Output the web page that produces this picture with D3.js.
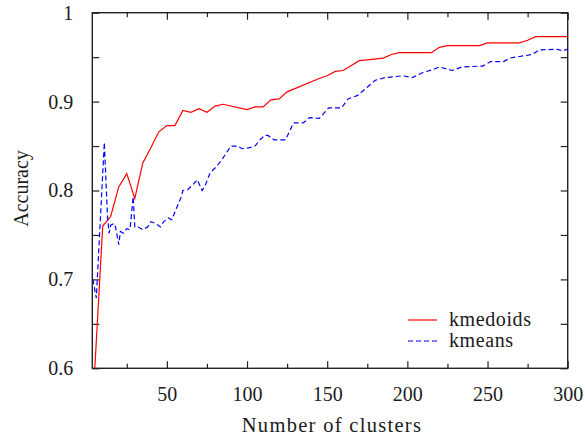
<!DOCTYPE html>
<html>
<head>
<meta charset="utf-8">
<script src="https://cdn.jsdelivr.net/npm/d3@7/dist/d3.min.js"></script>
<style>
  body { margin: 0; background: #fff; }
  svg text { font-family: "Liberation Serif", "Times New Roman", Times, "DejaVu Serif", serif; }
</style>
</head>
<body>
<div id="chart"></div>
<script>
const kmedoidsX = [5, 10, 15, 20, 25, 30, 35, 40, 45, 50, 55, 60, 65, 70, 75, 80, 85, 100, 105, 110, 115, 120, 125, 145, 150, 155, 160, 170, 175, 185, 190, 195, 215, 220, 225, 245, 250, 270, 275, 280, 300];
const kmedoidsY = [0.598, 0.760, 0.771, 0.804, 0.819, 0.791, 0.831, 0.848, 0.866, 0.873, 0.873, 0.890, 0.888, 0.892, 0.888, 0.895, 0.897, 0.891, 0.894, 0.894, 0.902, 0.903, 0.911, 0.926, 0.929, 0.934, 0.935, 0.946, 0.947, 0.949, 0.953, 0.955, 0.955, 0.961, 0.963, 0.963, 0.966, 0.966, 0.969, 0.973, 0.973];

const kmeansX = [3, 6, 11, 13, 14, 15, 17, 18, 20, 21, 23, 25, 27, 29, 30, 32, 35, 38, 40, 43, 46, 48, 51, 53, 56, 59, 60, 63, 67, 69, 72, 74, 77, 81, 84, 87, 90, 94, 97, 101, 105, 108, 111, 113, 117, 124, 129, 135, 139, 145, 151, 159, 163, 169, 180, 186, 197, 203, 210, 216, 220, 228, 234, 247, 252, 260, 264, 278, 282, 293, 297, 300];
const kmeansY = [0.709, 0.679, 0.854, 0.770, 0.752, 0.761, 0.763, 0.759, 0.739, 0.754, 0.752, 0.757, 0.756, 0.793, 0.759, 0.759, 0.756, 0.759, 0.765, 0.763, 0.759, 0.765, 0.769, 0.767, 0.780, 0.793, 0.800, 0.801, 0.808, 0.812, 0.800, 0.806, 0.820, 0.827, 0.834, 0.842, 0.850, 0.850, 0.847, 0.848, 0.850, 0.857, 0.862, 0.862, 0.857, 0.857, 0.876, 0.876, 0.882, 0.881, 0.893, 0.893, 0.903, 0.907, 0.924, 0.927, 0.929, 0.927, 0.933, 0.936, 0.939, 0.935, 0.939, 0.940, 0.945, 0.945, 0.949, 0.953, 0.958, 0.959, 0.957, 0.959];

const xMajorTicks = [50, 100, 150, 200, 250, 300];
const xMinorTicks = [25, 75, 125, 175, 225, 275];
const yTicks = [0.6, 0.65, 0.7, 0.75, 0.8, 0.85, 0.9, 0.95, 1];
const yLabelled = [0.6, 0.7, 0.8, 0.9, 1];

const seriesNames = ["kmedoids", "kmeans"];

const width = 585, height = 435;
const plot = { left: 92.3, right: 567.7, top: 12.7, bottom: 368.3 };

const svg = d3.select("#chart").append("svg")
  .attr("width", width)
  .attr("height", height)
  .style("display", "block");

svg.append("rect").attr("width", width).attr("height", height).attr("fill", "#fff");

const x = d3.scaleLinear().domain([3.5, 300]).range([plot.left, plot.right]);
const y = d3.scaleLinear().domain([0.6, 1]).range([plot.bottom, plot.top]);

const fmtY = d => yLabelled.includes(d) ? (d === 1 ? "1" : d.toFixed(1)) : "";

// axes, ticks pointing inward on all four sides
const styleAxis = g => {
  g.attr("font-family", null);
  g.select(".domain").remove();
  g.selectAll(".tick line").attr("stroke", "#222").attr("stroke-width", 1.2);
  g.selectAll(".tick text").attr("font-size", 20).attr("fill", "#1a1a1a");
};

svg.append("g")
  .attr("transform", `translate(0,${plot.bottom})`)
  .call(d3.axisBottom(x).tickValues(xMajorTicks).tickSize(-7).tickPadding(19).tickFormat(d3.format("d")))
  .call(styleAxis);
svg.append("g")
  .attr("transform", `translate(0,${plot.bottom})`)
  .call(d3.axisBottom(x).tickValues(xMinorTicks).tickSize(-4.5).tickFormat(""))
  .call(styleAxis);
svg.append("g")
  .attr("transform", `translate(0,${plot.top})`)
  .call(d3.axisTop(x).tickValues(xMajorTicks).tickSize(-7).tickFormat(""))
  .call(styleAxis);
svg.append("g")
  .attr("transform", `translate(0,${plot.top})`)
  .call(d3.axisTop(x).tickValues(xMinorTicks).tickSize(-4.5).tickFormat(""))
  .call(styleAxis);
svg.append("g")
  .attr("transform", `translate(${plot.left},0)`)
  .call(d3.axisLeft(y).tickValues(yTicks).tickSize(-7).tickPadding(19).tickFormat(fmtY))
  .call(styleAxis);
svg.append("g")
  .attr("transform", `translate(${plot.right},0)`)
  .call(d3.axisRight(y).tickValues(yTicks).tickSize(-7).tickFormat(""))
  .call(styleAxis);

// frame
svg.append("rect")
  .attr("x", plot.left).attr("y", plot.top)
  .attr("width", plot.right - plot.left).attr("height", plot.bottom - plot.top)
  .attr("fill", "none").attr("stroke", "#222").attr("stroke-width", 1.4);

svg.append("clipPath").attr("id", "plot-clip")
  .append("rect")
  .attr("x", plot.left).attr("y", plot.top)
  .attr("width", plot.right - plot.left).attr("height", plot.bottom - plot.top);

const line = d3.line().x(d => x(d[0])).y(d => y(d[1]));

const kmedoids = d3.zip(kmedoidsX, kmedoidsY);
const kmeans = d3.zip(kmeansX, kmeansY);

svg.append("path")
  .datum(kmedoids)
  .attr("clip-path", "url(#plot-clip)")
  .attr("fill", "none")
  .attr("stroke", "#ff0000")
  .attr("stroke-width", 1.2)
  .attr("d", line);

svg.append("path")
  .datum(kmeans)
  .attr("clip-path", "url(#plot-clip)")
  .attr("fill", "none")
  .attr("stroke", "#0000ff")
  .attr("stroke-width", 1.2)
  .attr("stroke-dasharray", "5,3")
  .attr("d", line);

// legend
const legend = svg.append("g").attr("transform", "translate(408,320)");
const legendStyles = [
  { color: "#ff0000", dash: null },
  { color: "#0000ff", dash: "5,3" }
];
seriesNames.forEach((name, i) => {
  const row = legend.append("g").attr("transform", `translate(0,${i * 21})`);
  row.append("line")
    .attr("x1", 0).attr("x2", 29)
    .attr("stroke", legendStyles[i].color)
    .attr("stroke-width", 1.2)
    .attr("stroke-dasharray", legendStyles[i].dash);
  row.append("text")
    .attr("x", 41).attr("dy", "0.32em")
    .attr("font-size", 20)
    .attr("letter-spacing", 0.6)
    .attr("fill", "#1a1a1a")
    .text(name);
});

// axis titles
svg.append("text")
  .attr("x", (plot.left + plot.right) / 2 + 2)
  .attr("y", 431.5)
  .attr("text-anchor", "middle")
  .attr("font-size", 20.5)
  .attr("letter-spacing", 1.3)
  .attr("fill", "#1a1a1a")
  .text("Number of clusters");

svg.append("text")
  .attr("transform", `translate(28,${(plot.top + plot.bottom) / 2 - 2}) rotate(-90)`)
  .attr("text-anchor", "middle")
  .attr("font-size", 20)
  .attr("fill", "#1a1a1a")
  .text("Accuracy");
</script>
</body>
</html>
